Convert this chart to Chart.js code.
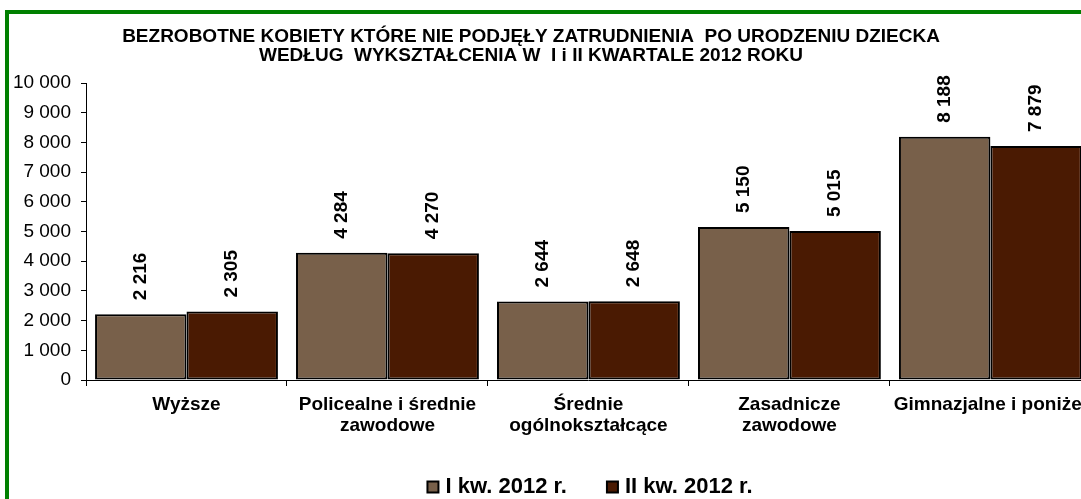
<!DOCTYPE html>
<html lang="pl">
<head>
<meta charset="utf-8">
<script src="https://cdn.jsdelivr.net/npm/chart.js@4"></script>
<style>
  html, body { margin: 0; padding: 0; background: #fff; overflow: hidden; }
  #wrap { position: relative; width: 1081px; height: 499px; overflow: hidden; }
  #frame { position: absolute; left: 5px; top: 10px; width: 1200px; height: 600px;
           border-left: 4px solid #008000; border-top: 4px solid #008000; }
  #box { position: absolute; left: 0; top: 0; width: 1095px; height: 499px; }
</style>
</head>
<body>
<div id="wrap">
  <div id="frame"></div>
  <div id="box"><canvas id="chart"></canvas></div>
</div>
<script>
const TITLE_LINES = [
    'BEZROBOTNE KOBIETY KTÓRE NIE PODJĘŁY ZATRUDNIENIA  PO URODZENIU DZIECKA',
    'WEDŁUG  WYKSZTAŁCENIA W  I i II KWARTALE 2012 ROKU'
];
const CATEGORIES = [
    'Wyższe',
    ['Policealne i średnie', 'zawodowe'],
    ['Średnie', 'ogólnokształcące'],
    ['Zasadnicze', 'zawodowe'],
    'Gimnazjalne i poniżej'
];
const SERIES_NAMES = ['I kw. 2012 r.', 'II kw. 2012 r.'];
const Q1_VALUES = [2216, 4284, 2644, 5150, 8188];
const Q2_VALUES = [2305, 4270, 2648, 5015, 7879];
const SERIES_COLORS = ['#78604a', '#4a1a02'];
const Y_MAX = 10000;
const Y_STEP = 1000;

const FONT = '"Liberation Sans", Arial, sans-serif';

// 10000 -> "10 000"
function fmt(v) {
    return String(v).replace(/\B(?=(\d{3})+(?!\d))/g, ' ');
}

// title, rotated value labels and the legend row are drawn by hand
const decorPlugin = {
    id: 'decor',
    afterDatasetsDraw(chart) {
        const ctx = chart.ctx;
        ctx.save();
        ctx.fillStyle = '#000';
        ctx.font = 'bold 19px ' + FONT;
        ctx.textAlign = 'left';
        ctx.textBaseline = 'middle';
        chart.data.datasets.forEach((ds, di) => {
            const meta = chart.getDatasetMeta(di);
            meta.data.forEach((bar, i) => {
                ctx.save();
                ctx.translate(bar.x, bar.y - 14);
                ctx.rotate(-Math.PI / 2);
                ctx.fillText(fmt(ds.data[i]), 0, 0);
                ctx.restore();
            });
        });
        ctx.restore();
    },
    afterDraw(chart) {
        const ctx = chart.ctx;
        ctx.save();
        ctx.fillStyle = '#000';
        ctx.textBaseline = 'middle';

        // title
        ctx.font = 'bold 19px ' + FONT;
        ctx.textAlign = 'center';
        TITLE_LINES.forEach((line, i) => ctx.fillText(line, 531, 37 + i * 19));

        // legend
        ctx.font = 'bold 22px ' + FONT;
        ctx.textAlign = 'left';
        const box = 11, gap = 7, spacing = 40, ly = 487;
        const widths = chart.data.datasets.map(ds => box + gap + ctx.measureText(ds.label).width);
        const total = widths.reduce((a, b) => a + b, 0) + spacing * (widths.length - 1);
        let x = 590 - total / 2;
        chart.data.datasets.forEach((ds, i) => {
            ctx.fillStyle = ds.backgroundColor;
            ctx.fillRect(x, ly - box / 2, box, box);
            ctx.lineWidth = 2;
            ctx.strokeStyle = '#000';
            ctx.strokeRect(x, ly - box / 2, box, box);
            ctx.fillStyle = '#000';
            ctx.fillText(ds.label, x + box + gap, ly);
            x += widths[i] + spacing;
        });
        ctx.restore();
    }
};

const chartData = {
    labels: CATEGORIES,
    datasets: [
        {
            label: SERIES_NAMES[0],
            data: Q1_VALUES,
            backgroundColor: SERIES_COLORS[0],
            borderColor: '#000',
            borderWidth: 2,
            borderSkipped: false
        },
        {
            label: SERIES_NAMES[1],
            data: Q2_VALUES,
            backgroundColor: SERIES_COLORS[1],
            borderColor: '#000',
            borderWidth: 2,
            borderSkipped: false
        }
    ]
};

const chartConfig = {
    type: 'bar',
    data: chartData,
    plugins: [decorPlugin],
    options: {
        responsive: true,
        maintainAspectRatio: false,
        animation: false,
        events: [],
        barPercentage: 1,
        categoryPercentage: 0.91,
        layout: {
            padding: { top: 83, left: 0, right: 0, bottom: 0 }
        },
        plugins: {
            legend: { display: false },
            title: { display: false },
            tooltip: { enabled: false }
        },
        scales: {
            x: {
                grid: {
                    drawOnChartArea: false,
                    drawTicks: true,
                    tickLength: 6,
                    color: '#000'
                },
                border: { display: true, color: '#000', width: 1 },
                ticks: {
                    color: '#000',
                    font: { family: FONT, size: 19, weight: 'bold', lineHeight: 1.1 },
                    padding: 8,
                    maxRotation: 0,
                    minRotation: 0,
                    autoSkip: false
                },
                afterFit(scale) { scale.height = 119; }
            },
            y: {
                min: 0,
                max: Y_MAX,
                grid: {
                    drawOnChartArea: false,
                    drawTicks: true,
                    tickLength: 5,
                    color: '#000'
                },
                border: { display: true, color: '#000', width: 1 },
                ticks: {
                    stepSize: Y_STEP,
                    color: '#000',
                    padding: 10,
                    font: { family: FONT, size: 19 },
                    callback: v => fmt(v)
                },
                afterFit(scale) { scale.width = 86; }
            }
        }
    }
};

const barChart = new Chart(document.getElementById('chart'), chartConfig);
</script>
</body>
</html>
